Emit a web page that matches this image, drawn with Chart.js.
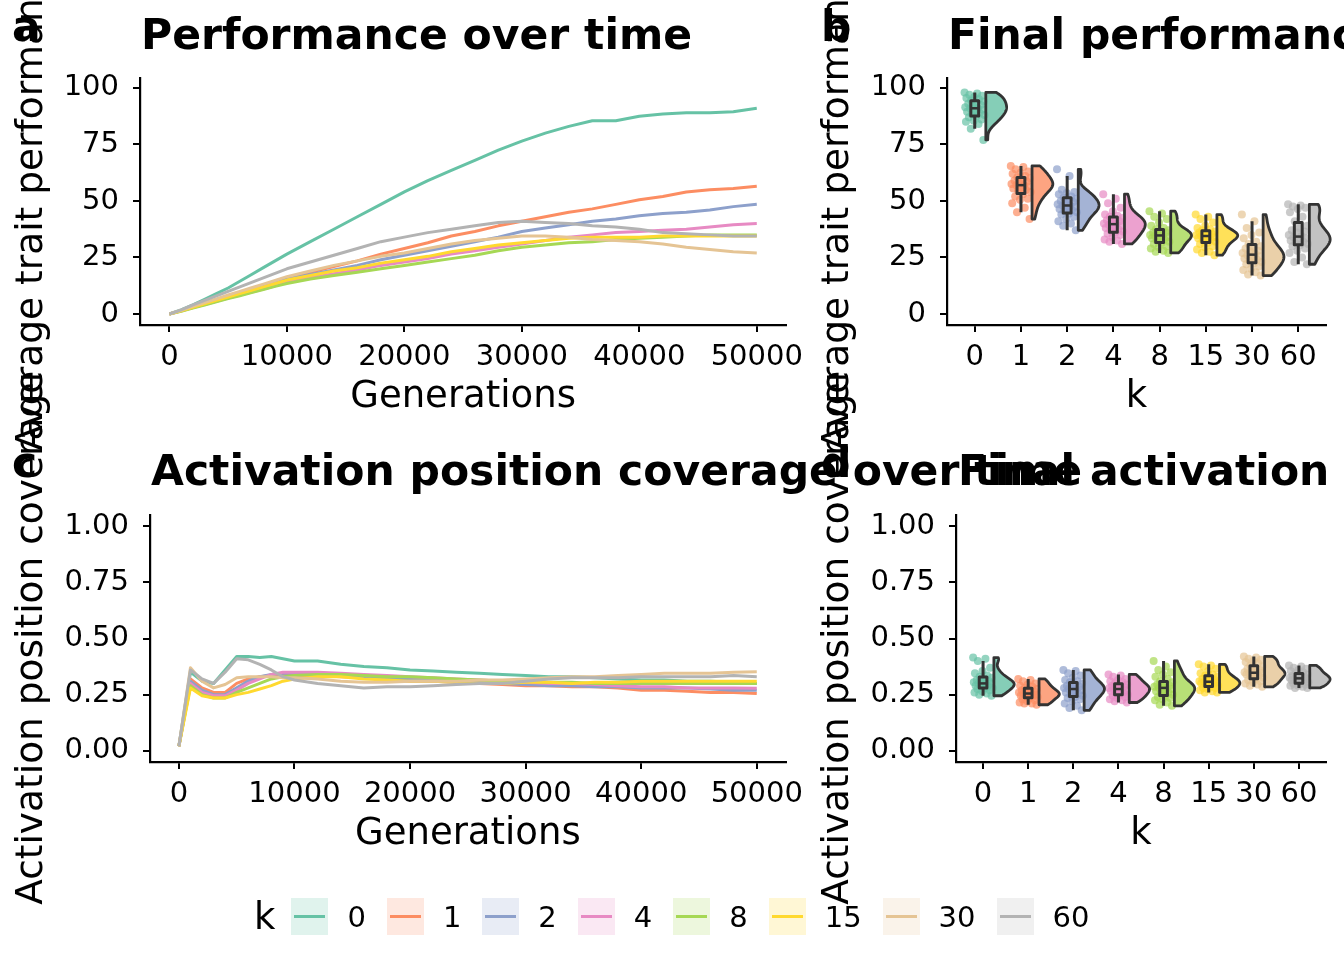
<!DOCTYPE html>
<html>
<head>
<meta charset="utf-8">
<script src="https://cdn.jsdelivr.net/npm/chart.js@4.4.0/dist/chart.umd.min.js"></script>
<style>
  body { margin: 0; width: 1344px; height: 960px; overflow: hidden; background: #fff; position: relative; font-family: "DejaVu Sans"; }
  canvas { position: absolute; }
  .txt { position: absolute; white-space: nowrap; line-height: 1; color: #000; }
  .title, .tag { font-weight: bold; font-size: 42.5px; }
  .ytitle { font-size: 37.5px; width: 700px; text-align: center; transform: rotate(-90deg); }
  #legend { position: absolute; left: 254px; top: 898px; height: 37px; display: flex; align-items: center; }
  #legend .lt { font-size: 37px; margin-right: 16px; }
  #legend .key { width: 37px; height: 37px; margin-right: 19px; position: relative; }
  #legend .key i { position: absolute; left: 3px; right: 3px; top: 17px; height: 3px; }
  #legend .lab { font-size: 29px; margin-right: 21px; }
</style>
</head>
<body>

<canvas id="cA" width="812" height="440" style="left:0;top:0"></canvas>
<canvas id="cB" width="538" height="440" style="left:806px;top:0"></canvas>
<canvas id="cC" width="812" height="440" style="left:0;top:437px"></canvas>
<canvas id="cD" width="538" height="440" style="left:806px;top:437px"></canvas>

<div class="txt ytitle" style="left:-320px;top:184px">Average trait performance</div>
<div class="txt ytitle" style="left:486px;top:184px">Average trait performance</div>
<div class="txt ytitle" style="left:-320px;top:619px">Activation position coverage</div>
<div class="txt ytitle" style="left:486px;top:619px">Activation position coverage</div>

<div class="txt tag" style="left:12px;top:6px">a</div>
<div class="txt tag" style="left:821px;top:6px">b</div>
<div class="txt tag" style="left:12px;top:442px">c</div>
<div class="txt tag" style="left:821px;top:442px">d</div>

<div class="txt title" style="left:141px;top:14px">Performance over time</div>
<div class="txt title" style="left:948px;top:14px">Final performance</div>
<div class="txt title" style="left:151px;top:450px">Activation position coverage over time</div>
<div class="txt title" style="left:958px;top:450px">Final activation position coverage</div>

<div id="legend"></div>

<script>
const kLabels = ["0", "1", "2", "4", "8", "15", "30", "60"];
const colors = ["#66C2A5", "#FC8D62", "#8DA0CB", "#E78AC3", "#A6D854", "#FFD92F", "#E5C494", "#B3B3B3"];

const generations = [0, 1000, 2000, 3000, 4000, 5000, 6000, 7000, 8000, 9000, 10000,
  12000, 14000, 16000, 18000, 20000, 22000, 24000, 26000, 28000, 30000,
  32000, 34000, 36000, 38000, 40000, 42000, 44000, 46000, 48000, 50000];

// a: average trait performance over time
const perfK0 = [0, 1.8, 4, 6.5, 9, 11.5, 14.5, 17.5, 20.5, 23.5, 26.5, 32, 37.5, 43, 48.5, 54, 59, 63.5, 68, 72.5, 76.5, 80, 83, 85.5, 85.5, 87.5, 88.5, 89, 89, 89.5, 91];
const perfK1 = [0, 1.5, 3, 4.5, 6, 7.5, 9, 10.5, 12.5, 14.5, 16, 18.5, 21, 23.5, 26.5, 29, 31.5, 34.5, 36.5, 39, 41, 43, 45, 46.5, 48.5, 50.5, 52, 54, 55, 55.5, 56.5];
const perfK2 = [0, 1.5, 3, 4.5, 6, 7.5, 9, 10.5, 12, 13.5, 15.5, 17.5, 19.5, 21.5, 24, 26, 28, 30, 32, 34, 36.5, 38, 39.5, 41, 42, 43.5, 44.5, 45, 46, 47.5, 48.5];
const perfK4 = [0, 1.3, 2.8, 4.2, 5.6, 7, 8.4, 9.7, 11, 12.5, 14, 16, 17.8, 19.5, 21.5, 23, 24.5, 26.5, 28, 29.5, 31, 32.5, 34, 35, 36, 36.5, 37, 37.5, 38.5, 39.5, 40];
const perfK8 = [0, 1.2, 2.6, 4, 5.4, 6.8, 8.1, 9.5, 10.8, 12.2, 13.5, 15.5, 17, 18.5, 20, 21.5, 23, 24.5, 26, 28, 29.5, 30.5, 31.5, 32, 33, 33.5, 34, 34.5, 35, 35, 35];
const perfK15 = [0, 1.4, 3, 4.5, 6, 7.5, 9, 10.5, 12, 13.5, 15, 17, 19, 20.5, 22.5, 24, 25.5, 27.5, 29, 30.5, 31.5, 32.5, 33.5, 34, 34, 34, 34.5, 34.5, 34.5, 34.5, 34.5];
const perfK30 = [0, 1.6, 3.4, 5, 6.7, 8.4, 10, 11.6, 13.2, 14.8, 16.5, 19, 21.5, 23.5, 25.5, 27, 29, 31, 32.5, 33.5, 34.5, 34.5, 34, 33, 32.5, 32, 31, 29.5, 28.5, 27.5, 27];
const perfK60 = [0, 1.8, 4, 6, 8, 10, 12, 14, 16, 18, 20, 23, 26, 29, 32, 34, 36, 37.5, 39, 40.5, 41, 40.5, 40, 39, 38.5, 37.5, 36, 35.5, 35, 34.5, 34.5];

// c: activation position coverage over time
const covK0 = [0.02, 0.35, 0.31, 0.30, 0.36, 0.42, 0.42, 0.415, 0.42, 0.41, 0.40, 0.40, 0.385, 0.375, 0.37, 0.36, 0.355, 0.35, 0.345, 0.34, 0.335, 0.33, 0.33, 0.325, 0.32, 0.315, 0.315, 0.31, 0.31, 0.305, 0.30];
const covK1 = [0.02, 0.32, 0.28, 0.26, 0.26, 0.30, 0.32, 0.33, 0.335, 0.335, 0.335, 0.335, 0.33, 0.325, 0.32, 0.31, 0.31, 0.305, 0.30, 0.295, 0.29, 0.29, 0.285, 0.285, 0.28, 0.27, 0.27, 0.265, 0.26, 0.26, 0.255];
const covK2 = [0.02, 0.31, 0.27, 0.25, 0.25, 0.28, 0.31, 0.33, 0.34, 0.345, 0.345, 0.34, 0.335, 0.33, 0.325, 0.32, 0.315, 0.31, 0.305, 0.30, 0.295, 0.29, 0.29, 0.285, 0.285, 0.28, 0.28, 0.28, 0.275, 0.27, 0.27];
const covK4 = [0.02, 0.30, 0.26, 0.245, 0.245, 0.27, 0.30, 0.32, 0.34, 0.35, 0.35, 0.35, 0.345, 0.34, 0.335, 0.33, 0.325, 0.32, 0.315, 0.31, 0.305, 0.30, 0.30, 0.295, 0.29, 0.285, 0.285, 0.28, 0.28, 0.28, 0.278];
const covK8 = [0.02, 0.29, 0.25, 0.235, 0.235, 0.26, 0.28, 0.30, 0.32, 0.33, 0.335, 0.34, 0.34, 0.335, 0.33, 0.33, 0.325, 0.32, 0.315, 0.31, 0.31, 0.305, 0.305, 0.30, 0.30, 0.30, 0.30, 0.30, 0.30, 0.30, 0.30];
const covK15 = [0.02, 0.28, 0.245, 0.235, 0.235, 0.25, 0.26, 0.275, 0.29, 0.31, 0.32, 0.33, 0.33, 0.32, 0.315, 0.31, 0.31, 0.305, 0.30, 0.30, 0.305, 0.305, 0.30, 0.305, 0.305, 0.31, 0.31, 0.31, 0.31, 0.31, 0.31];
const covK30 = [0.02, 0.37, 0.31, 0.28, 0.295, 0.325, 0.33, 0.33, 0.33, 0.325, 0.325, 0.32, 0.31, 0.305, 0.305, 0.31, 0.31, 0.31, 0.315, 0.315, 0.32, 0.325, 0.33, 0.33, 0.335, 0.34, 0.345, 0.345, 0.345, 0.35, 0.352];
const covK60 = [0.02, 0.36, 0.32, 0.30, 0.35, 0.41, 0.405, 0.385, 0.36, 0.33, 0.315, 0.30, 0.29, 0.28, 0.285, 0.285, 0.29, 0.295, 0.30, 0.30, 0.31, 0.32, 0.325, 0.325, 0.325, 0.33, 0.33, 0.33, 0.33, 0.335, 0.33];

// b: final performance per run
const finalPerfK0 = [98, 97.5, 97, 96.5, 96, 95.5, 95, 94.5, 94, 93.5, 93, 92.5, 92, 91.5, 91, 91, 90.5, 90, 89.5, 89, 88.5, 88, 87.5, 87, 86, 85.5, 85, 84, 82, 77];
const finalPerfK1 = [65.5, 65, 64, 63, 62.5, 62, 61, 60.5, 60, 59.5, 59, 58.5, 58, 57.5, 57, 57, 56.5, 56, 55.5, 55, 54.5, 54, 53, 52, 51, 50.5, 49, 47, 45, 42];
const finalPerfK2 = [64, 61, 55, 54, 53.5, 53, 52, 51.5, 51, 50.5, 50, 49.5, 49, 48.5, 48, 48, 47.5, 47, 46.5, 46, 45.5, 45, 44.5, 44, 43, 42, 41, 40, 39, 37];
const finalPerfK4 = [53, 51, 49, 47, 45.5, 44, 43.5, 43, 42.5, 42, 41.5, 41, 40.5, 40, 40, 39.5, 39, 38.5, 38, 37.5, 37, 36.5, 36, 35.5, 35, 34, 33, 32.5, 32, 31];
const finalPerfK8 = [45.5, 44.5, 43, 42, 40.5, 39, 38, 37.5, 37, 36.5, 36, 36, 35.5, 35, 35, 34.5, 34, 34, 33.5, 33, 32.5, 32, 31.5, 31, 30, 29.5, 29, 28, 27.5, 27];
const finalPerfK15 = [44, 43, 42, 40.5, 39, 38, 37.5, 37, 36.5, 36, 36, 35.5, 35, 35, 34.5, 34.5, 34, 34, 33.5, 33, 32.5, 32, 31.5, 31, 30, 29.5, 28.5, 27.5, 27, 26];
const finalPerfK30 = [44, 41, 38, 36, 35, 33.5, 32, 31, 30, 29.5, 29, 28, 27.5, 27, 26.5, 26, 25.5, 25, 24.5, 24, 23.5, 23, 22.5, 22, 21, 20, 19.5, 18.5, 17.5, 17];
const finalPerfK60 = [48.5, 48, 47.5, 47, 46.5, 45, 43, 41, 39, 38, 37, 36.5, 36, 35, 34.5, 34, 33.5, 33, 32.5, 32, 31.5, 31, 30.5, 30, 29, 28, 27, 25, 23, 22];

// d: final activation position coverage per run
const finalCovK0 = [0.415, 0.41, 0.40, 0.37, 0.355, 0.345, 0.335, 0.33, 0.325, 0.32, 0.315, 0.31, 0.31, 0.305, 0.30, 0.30, 0.30, 0.295, 0.29, 0.29, 0.285, 0.28, 0.28, 0.275, 0.27, 0.265, 0.26, 0.255, 0.25, 0.245];
const finalCovK1 = [0.32, 0.315, 0.31, 0.30, 0.295, 0.29, 0.285, 0.28, 0.275, 0.27, 0.27, 0.265, 0.26, 0.26, 0.255, 0.255, 0.25, 0.25, 0.245, 0.245, 0.24, 0.24, 0.235, 0.23, 0.225, 0.22, 0.215, 0.21, 0.21, 0.205];
const finalCovK2 = [0.36, 0.355, 0.345, 0.335, 0.325, 0.315, 0.31, 0.305, 0.30, 0.295, 0.29, 0.285, 0.28, 0.28, 0.275, 0.275, 0.27, 0.265, 0.26, 0.255, 0.25, 0.245, 0.24, 0.235, 0.23, 0.22, 0.21, 0.20, 0.19, 0.18];
const finalCovK4 = [0.34, 0.335, 0.33, 0.32, 0.315, 0.31, 0.305, 0.30, 0.295, 0.29, 0.29, 0.285, 0.28, 0.28, 0.275, 0.275, 0.27, 0.265, 0.265, 0.26, 0.255, 0.25, 0.25, 0.245, 0.24, 0.235, 0.23, 0.225, 0.22, 0.215];
const finalCovK8 = [0.40, 0.375, 0.36, 0.35, 0.34, 0.33, 0.32, 0.31, 0.305, 0.30, 0.295, 0.29, 0.285, 0.285, 0.28, 0.28, 0.275, 0.27, 0.265, 0.26, 0.255, 0.25, 0.245, 0.24, 0.235, 0.23, 0.225, 0.215, 0.205, 0.20];
const finalCovK15 = [0.385, 0.38, 0.375, 0.365, 0.355, 0.345, 0.34, 0.335, 0.33, 0.325, 0.32, 0.315, 0.315, 0.31, 0.31, 0.305, 0.305, 0.30, 0.30, 0.295, 0.29, 0.29, 0.285, 0.28, 0.28, 0.275, 0.27, 0.265, 0.26, 0.26];
const finalCovK30 = [0.42, 0.415, 0.41, 0.405, 0.40, 0.395, 0.39, 0.38, 0.375, 0.37, 0.365, 0.36, 0.355, 0.35, 0.35, 0.345, 0.345, 0.34, 0.34, 0.335, 0.33, 0.325, 0.32, 0.315, 0.31, 0.305, 0.30, 0.295, 0.29, 0.285];
const finalCovK60 = [0.38, 0.375, 0.37, 0.365, 0.36, 0.355, 0.35, 0.345, 0.34, 0.34, 0.335, 0.33, 0.33, 0.325, 0.325, 0.32, 0.32, 0.315, 0.315, 0.31, 0.31, 0.305, 0.30, 0.30, 0.295, 0.29, 0.29, 0.285, 0.28, 0.28];

const genTicks = [0, 10000, 20000, 30000, 40000, 50000];
const perfTicks = [0, 25, 50, 75, 100];
const covTicks = [0, 0.25, 0.5, 0.75, 1];

const perfSeries = [perfK0, perfK1, perfK2, perfK4, perfK8, perfK15, perfK30, perfK60];
const covSeries = [covK0, covK1, covK2, covK4, covK8, covK15, covK30, covK60];
const finalPerf = [finalPerfK0, finalPerfK1, finalPerfK2, finalPerfK4, finalPerfK8, finalPerfK15, finalPerfK30, finalPerfK60];
const finalCov = [finalCovK0, finalCovK1, finalCovK2, finalCovK4, finalCovK8, finalCovK15, finalCovK30, finalCovK60];

const FONT = "DejaVu Sans";

function rgba(hex, a) {
  const n = parseInt(hex.slice(1), 16);
  return `rgba(${n >> 16},${(n >> 8) & 255},${n & 255},${a})`;
}

function axisBase(extra) {
  return Object.assign({
    type: "linear",
    grid: { drawOnChartArea: false, drawTicks: true, tickLength: 7, color: "#000", lineWidth: 2 },
    border: { display: true, color: "#000", width: 2.2 },
  }, extra);
}

function xAxis(min, max, ticks, labels, title, height) {
  return axisBase({
    min, max,
    afterBuildTicks: (s) => { s.ticks = ticks.map((v) => ({ value: v })); },
    afterFit: (s) => { s.height = height; },
    ticks: {
      font: { family: FONT, size: 29 }, color: "#000", padding: 8,
      maxRotation: 0, autoSkip: false,
      callback: (v, i) => labels[i],
    },
    title: { display: true, text: title, color: "#000", font: { family: FONT, size: 37 }, padding: { top: 0, bottom: 20 } },
  });
}

function yAxis(min, max, ticks, labels, width) {
  return axisBase({
    min, max,
    afterBuildTicks: (s) => { s.ticks = ticks.map((v) => ({ value: v })); },
    afterFit: (s) => { s.width = width; },
    ticks: { font: { family: FONT, size: 29 }, color: "#000", padding: 14, callback: (v, i) => labels[i] },
  });
}

const common = {
  responsive: false,
  animation: false,
  events: [],
  plugins: { legend: { display: false }, tooltip: { enabled: false } },
};

function lineChart(id, series, yMin, yMax, yTicks, yLabels, yWidth) {
  new Chart(document.getElementById(id), {
    type: "line",
    data: {
      datasets: series.map((vals, i) => ({
        data: generations.map((g, j) => ({ x: g, y: vals[j] })),
        borderColor: colors[i],
        borderWidth: 3,
        pointRadius: 0,
        tension: 0,
        borderJoinStyle: "round",
        order: series.length - i,
      })),
    },
    options: Object.assign({}, common, {
      layout: { padding: { top: 78, right: 24, left: 0, bottom: 0 } },
      scales: {
        x: xAxis(-2500, 52500, genTicks, genTicks.map(String), "Generations", 115),
        y: yAxis(yMin, yMax, yTicks, yLabels, yWidth),
      },
    }),
  });
}

// half violin + box drawn with the chart's own scales
function rainPlugin(groups) {
  return {
    id: "rain",
    afterDatasetsDraw(chart) {
      const { ctx, scales: { x, y } } = chart;
      ctx.save();
      groups.forEach((vals, i) => {
        const s = vals.slice().sort((a, b) => a - b);
        const n = s.length;
        const q = (p) => { const h = (n - 1) * p, lo = Math.floor(h); return s[lo] + (h - lo) * ((s[Math.min(lo + 1, n - 1)]) - s[lo]); };
        const q1 = q(0.25), med = q(0.5), q3 = q(0.75), iqr = q3 - q1;
        const mean = s.reduce((a, b) => a + b, 0) / n;
        const sd = Math.sqrt(s.reduce((a, b) => a + (b - mean) ** 2, 0) / (n - 1));
        const bw = 0.9 * Math.min(sd, iqr / 1.34) * Math.pow(n, -0.2);
        const lo = s[0], hi = s[n - 1];
        const dens = [];
        for (let k = 0; k <= 80; k++) {
          const v = lo + (hi - lo) * k / 80;
          let d = 0;
          s.forEach((p) => { const z = (v - p) / bw; d += Math.exp(-0.5 * z * z); });
          dens.push([v, d]);
        }
        const dmax = Math.max(...dens.map((d) => d[1]));
        const x0 = x.getPixelForValue(i + 0.24);
        const wmax = x.getPixelForValue(i + 0.69) - x0;
        ctx.beginPath();
        ctx.moveTo(x0, y.getPixelForValue(lo));
        dens.forEach(([v, d]) => ctx.lineTo(x0 + d / dmax * wmax, y.getPixelForValue(v)));
        ctx.lineTo(x0, y.getPixelForValue(hi));
        ctx.closePath();
        ctx.fillStyle = rgba(colors[i], 0.8);
        ctx.fill();
        ctx.strokeStyle = "#333";
        ctx.lineWidth = 2.8;
        ctx.lineJoin = "round";
        ctx.stroke();

        // box plot
        const wLo = s.find((v) => v >= q1 - 1.5 * iqr);
        const wHi = s.slice().reverse().find((v) => v <= q3 + 1.5 * iqr);
        const xc = x.getPixelForValue(i);
        const bh = (x.getPixelForValue(i + 0.085) - xc);
        ctx.lineWidth = 3;
        ctx.beginPath();
        ctx.moveTo(xc, y.getPixelForValue(wLo));
        ctx.lineTo(xc, y.getPixelForValue(q1));
        ctx.moveTo(xc, y.getPixelForValue(q3));
        ctx.lineTo(xc, y.getPixelForValue(wHi));
        ctx.stroke();
        const yTop = y.getPixelForValue(q3), hBox = y.getPixelForValue(q1) - yTop;
        ctx.fillStyle = rgba(colors[i], 0.5);
        ctx.fillRect(xc - bh, yTop, 2 * bh, hBox);
        ctx.strokeRect(xc - bh, yTop, 2 * bh, hBox);
        ctx.lineWidth = 2.5;
        ctx.beginPath();
        ctx.moveTo(xc - bh, y.getPixelForValue(med));
        ctx.lineTo(xc + bh, y.getPixelForValue(med));
        ctx.stroke();
      });
      ctx.restore();
    },
  };
}

function rainChart(id, groups, yMin, yMax, yTicks, yLabels, yWidth) {
  new Chart(document.getElementById(id), {
    type: "scatter",
    data: {
      datasets: groups.map((vals, i) => ({
        // small horizontal spread so the runs do not sit on one line
        data: vals.map((v, j) => ({ x: i + (((j * 0.6180339) % 1) - 0.5) * 0.44, y: v })),
        backgroundColor: rgba(colors[i], 0.7),
        borderWidth: 0,
        pointRadius: 4,
      })),
    },
    options: Object.assign({}, common, {
      layout: { padding: { top: 78, right: 18, left: 0, bottom: 0 } },
      scales: {
        x: xAxis(-0.6, 7.6, kLabels.map((_, i) => i), kLabels, "k", 115),
        y: yAxis(yMin, yMax, yTicks, yLabels, yWidth),
      },
    }),
    plugins: [rainPlugin(groups)],
  });
}

lineChart("cA", perfSeries, -4.87, 104.4, perfTicks, perfTicks.map(String), 140);
rainChart("cB", finalPerf, -4.87, 104.4, perfTicks, perfTicks.map(String), 141);
lineChart("cC", covSeries, -0.05, 1.05, covTicks, covTicks.map((v) => v.toFixed(2)), 150);
rainChart("cD", finalCov, -0.05, 1.05, covTicks, covTicks.map((v) => v.toFixed(2)), 150);

// legend
const legend = document.getElementById("legend");
legend.innerHTML = '<span class="lt">k</span>' + kLabels.map((k, i) =>
  `<span class="key" style="background:${rgba(colors[i], 0.2)}"><i style="background:${colors[i]}"></i></span><span class="lab">${k}</span>`
).join("");
</script>
</body>
</html>
